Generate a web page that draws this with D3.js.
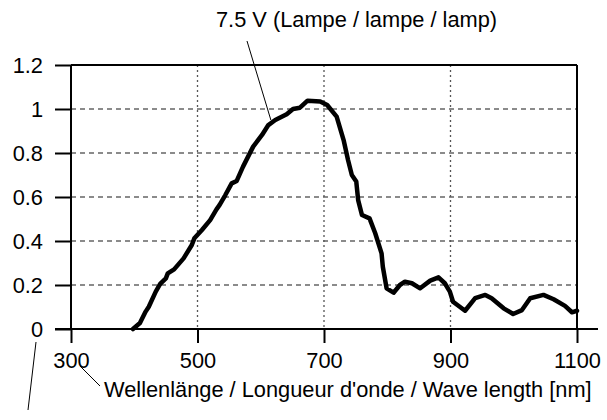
<!DOCTYPE html>
<html>
<head>
<meta charset="utf-8">
<script src="https://cdn.jsdelivr.net/npm/d3@7"></script>
<style>
  body { margin: 0; background: #fff; }
  svg text { font-family: "Liberation Sans", Arial, sans-serif; fill: #000; }
</style>
</head>
<body>
<div id="plot"></div>
<script>
// spectrum of the lamp at 7.5 V
var wavelength = [398, 409, 418, 423, 434, 441, 450, 453, 463, 478, 491, 495, 507, 520, 530, 535,
  544, 554, 562, 572, 588, 602, 612, 623, 641, 651, 662, 674, 694, 705, 720, 731, 738, 744,
  751, 754, 760, 772, 781, 791, 793, 799, 810, 820, 828, 839, 852, 868, 881, 891, 899, 904,
  923, 939, 955, 965, 984, 999, 1013, 1026, 1047, 1063, 1081, 1092, 1100];
var intensity = [0, 0.027, 0.079, 0.101, 0.17, 0.205, 0.23, 0.253, 0.271, 0.321, 0.382, 0.412, 0.45,
  0.495, 0.544, 0.564, 0.609, 0.662, 0.673, 0.738, 0.829, 0.882, 0.927, 0.95, 0.976, 1.0, 1.006,
  1.038, 1.034, 1.018, 0.965, 0.859, 0.768, 0.70, 0.67, 0.586, 0.518, 0.503, 0.435, 0.344, 0.283,
  0.185, 0.165, 0.2, 0.215, 0.208, 0.185, 0.22, 0.235, 0.208, 0.17, 0.124, 0.083, 0.14, 0.155,
  0.14, 0.094, 0.068, 0.086, 0.14, 0.155, 0.135, 0.105, 0.076, 0.083];

var xTicks = [300, 500, 700, 900, 1100];
var yTicks = [0, 0.2, 0.4, 0.6, 0.8, 1, 1.2];
var yTickLabels = ["0", "0.2", "0.4", "0.6", "0.8", "1", "1.2"];

var seriesLabel = "7.5 V (Lampe / lampe / lamp)";
var xLabel = "Wellenlänge / Longueur d'onde / Wave length [nm]";

var svgWidth = 607;
var svgHeight = 420;
var fontSize = 21.8;

var svg = d3.select("#plot")
  .append("svg")
  .attr("width", svgWidth)
  .attr("height", svgHeight);

var x = d3.scaleLinear().domain([300, 1100]).range([71, 577]);
var y = d3.scaleLinear().domain([0, 1.2]).range([329, 65]);

// grid
svg.append("g")
  .selectAll("line")
  .data(yTicks.slice(1, -1))
  .enter()
  .append("line")
  .attr("x1", x(300))
  .attr("x2", x(1100))
  .attr("y1", d => y(d))
  .attr("y2", d => y(d))
  .attr("stroke", "#666")
  .attr("stroke-width", 1.3)
  .attr("stroke-dasharray", "5,4");

svg.append("g")
  .selectAll("line")
  .data(xTicks.slice(1, -1))
  .enter()
  .append("line")
  .attr("x1", d => x(d))
  .attr("x2", d => x(d))
  .attr("y1", y(1.2))
  .attr("y2", y(0))
  .attr("stroke", "#555")
  .attr("stroke-width", 1.3)
  .attr("stroke-dasharray", "2,3");

// axes
var leftAxis = d3.axisLeft(y)
  .tickValues(yTicks)
  .tickFormat((d, i) => yTickLabels[i])
  .tickSize(16)
  .tickPadding(12);

var bottomAxis = d3.axisBottom(x)
  .tickValues(xTicks)
  .tickFormat(d3.format("d"))
  .tickSize(14)
  .tickPadding(10);

var yAxisG = svg.append("g")
  .attr("transform", `translate(${x(300)},0)`)
  .call(leftAxis);

var xAxisG = svg.append("g")
  .attr("transform", `translate(0,${y(0)})`)
  .call(bottomAxis);

[yAxisG, xAxisG].forEach(g => {
  g.select(".domain").remove();
  g.selectAll(".tick line").attr("stroke", "#000").attr("stroke-width", 2);
  g.selectAll(".tick text").style("font-size", fontSize + "px").attr("fill", "#000");
});
yAxisG.selectAll(".tick text").attr("dy", "0.33em");

// frame
var frame = svg.append("g")
  .attr("stroke", "#000")
  .attr("stroke-width", 2);
frame.append("line")
  .attr("x1", x(300) - 16).attr("x2", x(1100) + 21)
  .attr("y1", y(0)).attr("y2", y(0));
frame.append("line")
  .attr("x1", x(300)).attr("x2", x(300))
  .attr("y1", y(1.2)).attr("y2", y(0));
frame.append("line")
  .attr("x1", x(300)).attr("x2", x(1100))
  .attr("y1", y(1.2)).attr("y2", y(1.2));
frame.append("line")
  .attr("x1", x(1100)).attr("x2", x(1100))
  .attr("y1", y(1.2)).attr("y2", y(0));

// curve
var plotData = wavelength.map((w, i) => ({ w: w, v: intensity[i] }));
var line = d3.line()
  .x(d => x(d.w))
  .y(d => y(d.v));

svg.append("path")
  .datum(plotData)
  .attr("d", line)
  .attr("fill", "none")
  .attr("stroke", "#000")
  .attr("stroke-width", 4.5)
  .attr("stroke-linejoin", "round")
  .attr("stroke-linecap", "round");

// labels and leader lines
svg.append("text")
  .attr("x", 216)
  .attr("y", 27)
  .style("font-size", fontSize + "px")
  .text(seriesLabel);

svg.append("line")
  .attr("x1", 247).attr("y1", 41)
  .attr("x2", x(616)).attr("y2", y(0.95))
  .attr("stroke", "#000").attr("stroke-width", 1);

svg.append("text")
  .attr("x", 104)
  .attr("y", 397)
  .style("font-size", fontSize + "px")
  .text(xLabel);

svg.append("line")
  .attr("x1", 80).attr("y1", 366)
  .attr("x2", 100).attr("y2", 386)
  .attr("stroke", "#000").attr("stroke-width", 1);

svg.append("line")
  .attr("x1", 36).attr("y1", 342)
  .attr("x2", 28).attr("y2", 410)
  .attr("stroke", "#000").attr("stroke-width", 1);
</script>
</body>
</html>
